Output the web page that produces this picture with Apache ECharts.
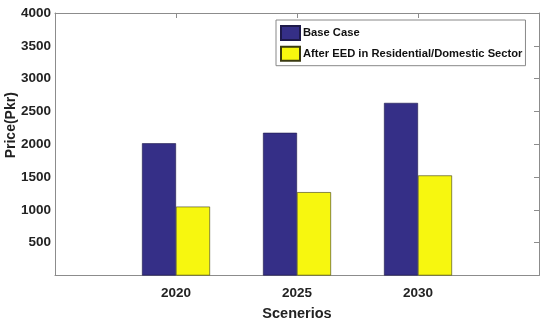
<!DOCTYPE html>
<html>
<head>
<meta charset="utf-8">
<script src="https://cdn.jsdelivr.net/npm/echarts@6/dist/echarts.min.js"></script>
<style>html,body{margin:0;padding:0;background:#fff}#c{width:550px;height:326px}</style>
</head>
<body>
<div id="c"></div>
<script>
var categories = ['', '2020', '2025', '2030', ''];
var seriesNames = ['Base Case', 'After EED in Residential/Domestic Sector'];
var baseCase = ['-', 2015, 2175, 2630, '-'];
var afterEED = ['-', 1050, 1270, 1525, '-'];
var yTicks = [0, 500, 1000, 1500, 2000, 2500, 3000, 3500, 4000];

var FONT = '"Liberation Sans", Arial, sans-serif';
var AX = '#8c8c8c';
var chart = echarts.init(document.getElementById('c'));
chart.setOption({
  animation: false,
  backgroundColor: '#fff',
  grid: {left: 55, right: 11, top: 13, bottom: 50.5, containLabel: false, outerBoundsMode: 'none'},
  legend: {
    left: 276, top: 20,
    orient: 'vertical',
    data: seriesNames,
    itemWidth: 19, itemHeight: 14, itemGap: 4.7,
    padding: [5, 3, 4, 4],
    borderColor: '#888', borderWidth: 1, backgroundColor: '#fff',
    textStyle: {fontFamily: FONT, fontWeight: 'bold', fontSize: 11.2, color: '#111', padding: [0, 0, 0, -2]},
    icon: 'rect'
  },
  xAxis: [{
    type: 'category', data: categories, boundaryGap: false, position: 'bottom',
    name: 'Scenerios', nameLocation: 'middle', nameGap: 31, nameMoveOverlap: false,
    nameTextStyle: {fontFamily: FONT, fontWeight: 'bold', fontSize: 14.5, color: '#222'},
    axisLine: {onZero: false, lineStyle: {color: AX, width: 1}},
    axisTick: {show: false},
    axisLabel: {interval: 0, fontFamily: FONT, fontWeight: 'bold', fontSize: 13.5, color: '#222', margin: 11}
  }, {
    type: 'category', data: categories, boundaryGap: false, position: 'top',
    axisLine: {onZero: false, lineStyle: {color: AX, width: 1}},
    axisTick: {show: true, inside: true, length: 5, interval: 0, lineStyle: {color: AX}},
    axisLabel: {show: false}
  }],
  yAxis: [{
    type: 'value', min: yTicks[0], max: yTicks[yTicks.length - 1], interval: 500,
    name: 'Price(Pkr)', nameLocation: 'middle', nameGap: 37, nameMoveOverlap: false,
    nameTextStyle: {fontFamily: FONT, fontWeight: 'bold', fontSize: 14, color: '#222', padding: [0, 0, 0, 38]},
    axisLine: {show: true, onZero: false, lineStyle: {color: AX, width: 1}},
    axisTick: {show: false},
    splitLine: {show: false},
    axisLabel: {fontFamily: FONT, fontWeight: 'bold', fontSize: 13.5, color: '#222', margin: 4,
      formatter: function (v) { return v === 0 ? '' : String(v); }}
  }, {
    type: 'value', min: yTicks[0], max: yTicks[yTicks.length - 1], interval: 500, position: 'right',
    axisLine: {show: true, onZero: false, lineStyle: {color: AX, width: 1}},
    axisTick: {show: true, inside: true, length: 5, lineStyle: {color: AX}},
    splitLine: {show: false},
    axisLabel: {show: false}
  }],
  series: [{
    name: seriesNames[0], type: 'bar', data: baseCase, barWidth: 34, barGap: '0%',
    itemStyle: {color: '#352F87', borderColor: '#1e1a4a', borderWidth: 0.6}
  }, {
    name: seriesNames[1], type: 'bar', data: afterEED, barWidth: 34, barGap: '0%',
    itemStyle: {color: '#F7F70F', borderColor: '#3a3a10', borderWidth: 0.6}
  }]
});
</script>
</body>
</html>
